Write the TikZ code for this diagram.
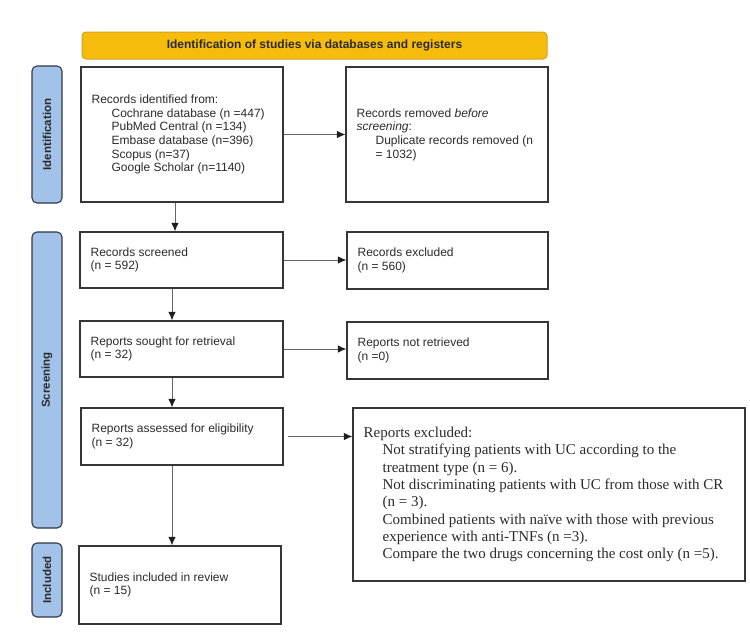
\documentclass[tikz,border=0pt]{standalone}
\usepackage{fontspec}
\setmainfont{Liberation Sans}
\newfontfamily\timesfont{Liberation Serif}
\usetikzlibrary{arrows.meta}
\definecolor{gold}{HTML}{F6BC0C}
\definecolor{goldedge}{HTML}{D6A020}
\definecolor{barblue}{HTML}{A3C2E9}
\definecolor{baredge}{HTML}{2E3846}
\definecolor{boxedge}{HTML}{363636}
\definecolor{txtcol}{HTML}{2B2B2B}
\definecolor{arrgray}{HTML}{666666}
\definecolor{tipcol}{HTML}{1E1E1E}
\begin{document}
\begin{tikzpicture}[x=1pt,y=-1pt,
  box/.style={draw=boxedge, line width=1.2pt, inner sep=0pt, fill=white},
  bar/.style={draw=baredge, line width=1.1pt, fill=barblue, rounded corners=5pt, inner sep=0pt, minimum width=30pt},
  barlabel/.style={rotate=90, font=\bfseries\fontsize{11.5}{13}\selectfont, text=txtcol, inner sep=0pt},
  txt/.style={anchor=west, align=left, inner sep=0pt, text=txtcol, font=\fontsize{12}{13.7}\selectfont},
  serif/.style={anchor=west, align=left, inner sep=0pt, text=txtcol, font=\timesfont\fontsize{15}{17.3}\selectfont},
  arr/.style={draw=arrgray, line width=1pt, -{Latex[length=8.5pt,width=7.5pt,color=tipcol]}}
]
\useasboundingbox (0,0) rectangle (750,641);
\fill[white] (0,0) rectangle (750,641);

% banner
\node[draw=goldedge, line width=1pt, fill=gold, rounded corners=4pt, minimum width=465pt, minimum height=27pt, inner sep=0pt,
      font=\bfseries\fontsize{12}{14}\selectfont, text=txtcol] (banner) at (314.5,45.5) {Identification of studies via databases and registers};

% side bars
\node[bar, minimum height=137pt] (barid) at (47,134.5) {};
\node[barlabel] (lblid) at (barid.center) {Identification};
\node[bar, minimum height=296pt] (barsc) at (47,380) {};
\node[barlabel] (lblsc) at (barsc.center) {Screening};
\node[bar, minimum height=74pt] (barin) at (47,580) {};
\node[barlabel] (lblin) at (barin.center) {Included};

% boxes
\node[box, minimum width=202pt, minimum height=135pt] (ident) at (182,134.5) {};
\node[box, minimum width=202pt, minimum height=135pt] (removed) at (447,134.5) {};
\node[box, minimum width=203pt, minimum height=56pt] (screen) at (181.5,260) {};
\node[box, minimum width=201pt, minimum height=57pt] (excl) at (447.5,260.5) {};
\node[box, minimum width=203pt, minimum height=56pt] (sought) at (181.5,349) {};
\node[box, minimum width=201pt, minimum height=57pt] (notret) at (447.5,350.5) {};
\node[box, minimum width=202pt, minimum height=57pt] (assess) at (182,436.5) {};
\node[box, minimum width=392pt, minimum height=173pt] (repexcl) at (549,494.5) {};
\node[box, minimum width=202pt, minimum height=78pt] (incl) at (180,585) {};

% texts
\node[txt] (tident) at ([xshift=11pt]ident.west) {Records identified from:\\
\hspace*{20pt}Cochrane database (n =447)\\
\hspace*{20pt}PubMed Central (n =134)\\
\hspace*{20pt}Embase database (n=396)\\
\hspace*{20pt}Scopus (n=37)\\
\hspace*{20pt}Google Scholar (n=1140)};
\node[txt] (tremoved) at ([xshift=11pt]removed.west) {Records removed \textit{before}\\
\textit{screening}:\\
\hspace*{19pt}Duplicate records removed (n\\
\hspace*{19pt}= 1032)};
\node[txt] (tscreen) at ([xshift=11pt]screen.west) {Records screened\\(n = 592)};
\node[txt] (texcl) at ([xshift=11pt]excl.west) {Records excluded\\(n = 560)};
\node[txt] (tsought) at ([xshift=11pt]sought.west) {Reports sought for retrieval\\(n = 32)};
\node[txt] (tnotret) at ([xshift=11pt]notret.west) {Reports not retrieved\\(n =0)};
\node[txt] (tassess) at ([xshift=11pt]assess.west) {Reports assessed for eligibility\\(n = 32)};
\node[txt] (tincl) at ([xshift=11pt]incl.west) {Studies included in review\\(n = 15)};
\node[serif] (trepexcl) at ([xshift=11pt]repexcl.west) {Reports excluded:\\
\hspace*{19pt}Not stratifying patients with UC according to the\\
\hspace*{19pt}treatment type (n = 6).\\
\hspace*{19pt}Not discriminating patients with UC from those with CR\\
\hspace*{19pt}(n = 3).\\
\hspace*{19pt}Combined patients with naïve with those with previous\\
\hspace*{19pt}experience with anti-TNFs (n =3).\\
\hspace*{19pt}Compare the two drugs concerning the cost only (n =5).};

% connectors
\coordinate (colA) at (175,0);
\coordinate (colB) at (172,0);
\draw[arr] (ident.south -| colA) -- (screen.north -| colA);
\draw[arr] (screen.south -| colB) -- (sought.north -| colB);
\draw[arr] (sought.south -| colB) -- (assess.north -| colB);
\draw[arr] (assess.south -| colB) -- (incl.north -| colB);
\draw[arr] (ident.east) -- (removed.west);
\draw[arr] (screen.east) -- (screen.east -| excl.west);
\draw[arr] (sought.east) -- (sought.east -| notret.west);
\draw[arr] ([xshift=4pt]assess.east) -- (assess.east -| repexcl.west);
\end{tikzpicture}
\end{document}
